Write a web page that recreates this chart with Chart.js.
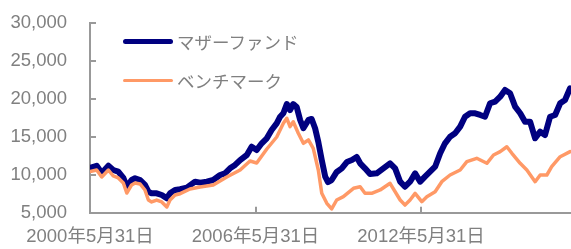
<!DOCTYPE html>
<html><head><meta charset="utf-8">
<script src="https://cdn.jsdelivr.net/npm/chart.js@4/dist/chart.umd.min.js"></script>
<style>
html,body{margin:0;padding:0;background:#fff;overflow:hidden}
#wrap{position:relative;width:571px;height:249px}
#legend{position:absolute;left:0;top:0;font-family:"Noto Sans CJK JP",sans-serif;font-size:17.5px;color:#808080}
.item{position:absolute;left:123px;height:20px;display:flex;align-items:center;white-space:nowrap}
.sw{display:inline-block;width:50px;margin-right:4px;border-radius:3px}
</style></head>
<body><div id="wrap"><canvas id="c" width="571" height="249"></canvas>
<div id="legend"></div></div>
<script>
const seriesNames = ['マザーファンド', 'ベンチマーク'];
const tickMonths = [0, 72, 144];
const tickLabels = ['2000年5月31日', '2006年5月31日', '2012年5月31日'];
const yTicks = [5000, 10000, 15000, 20000, 25000, 30000];
// months since 2000-05-31
const fundMonths = [0,2.9,5.1,8.0,10.1,12.3,14.5,16.0,18.1,19.6,21.8,23.9,25.4,26.8,29.0,31.2,33.4,34.8,37.0,39.2,42.1,45.7,47.9,50.8,53.6,56.6,58.7,60.9,63.1,65.3,68.2,70.3,72.5,74.7,76.9,79.0,81.2,82.7,84.1,85.6,87.0,88.4,89.9,91.4,92.8,95.0,96.4,97.9,99.3,100.8,102.3,103.5,105.1,107.3,109.5,111.7,113.9,116.0,117.5,119.6,121.8,124.7,127.6,130.5,132.7,134.9,137.0,139.2,141.4,143.6,145.7,147.9,150.1,152.3,154.4,156.6,158.8,161.0,163.1,165.3,167.5,169.7,171.8,174.0,176.2,178.4,180.5,182.7,184.9,187.1,189.2,191.4,193.6,195.8,197.9,200.1,202.3,204.5,206.6,208.8];
const fundValues = [10880,11180,10220,11180,10620,10400,9570,8420,9300,9530,9300,8650,7760,7550,7550,7330,6900,7550,7990,8080,8290,9080,8950,9080,9300,9960,10180,10840,11280,11930,12590,13680,13250,14130,14790,15880,16760,17630,18080,19300,18510,19300,18910,17200,16110,17200,17330,16110,14300,11930,9740,9040,9300,10360,10840,11670,11930,12330,11500,10840,10090,10180,10840,11500,10840,9080,8420,9080,10180,9080,9740,10400,11050,12820,14130,15000,15450,16320,17630,18080,18080,17860,17630,19400,19610,20260,21150,20710,18950,18080,16970,16970,14790,15660,15220,17630,17860,19400,19830,21370];
const benchMonths = [0,2.9,5.1,8.0,10.1,12.3,14.5,16.0,18.1,19.6,21.8,23.9,25.4,26.8,29.0,31.2,33.4,34.8,37.0,39.2,43.5,47.9,53.6,59.5,65.3,69.6,72.5,76.9,81.2,84.1,85.6,87.0,88.4,90.6,92.8,95.0,97.1,99.3,100.8,103.0,105.1,107.3,110.2,114.6,117.5,119.6,122.5,126.2,130.5,134.9,137.0,139.2,141.4,144.3,146.5,150.1,153.0,156.6,161.0,163.9,168.2,172.6,175.5,178.4,181.3,183.5,187.1,190.0,193.6,195.8,198.7,200.8,204.5,208.8];
const benchValues = [10420,10620,9700,10620,9830,9570,8910,7590,8650,8910,8780,7990,6670,6410,6670,6410,5750,6670,7330,7500,8120,8380,8650,9700,10620,11800,11540,13380,14960,16760,17420,16320,16970,15450,14130,14570,13470,10620,7550,6240,5490,6670,7110,8210,8420,7550,7550,7990,8870,6670,6010,6670,7550,6450,7110,7760,9080,9960,10620,11710,12160,11500,12590,13030,13680,12820,11500,10620,9080,9960,9960,11050,12370,13030];

const colors = ['#000080', '#FF9966'];
const widths = [6, 3.5];
const legendWidths = [5, 3];
const axisColor = '#999999';
const textColor = '#808080';

function pts(ms, vs){ return ms.map((m,i)=>({x:m, y:vs[i]})); }

// HTML legend inside the plot
const lg = document.getElementById('legend');
[41.5, 80].forEach((cy, i) => {
  const d = document.createElement('div');
  d.className = 'item';
  d.style.top = (cy - 10) + 'px';
  const sw = document.createElement('span');
  sw.className = 'sw';
  sw.style.height = legendWidths[i] + 'px';
  sw.style.background = colors[i];
  d.appendChild(sw);
  d.appendChild(document.createTextNode(seriesNames[i]));
  lg.appendChild(d);
});

const innerTicks = {
  id: 'innerTicks',
  beforeDatasetsDraw(chart){
    const {ctx, chartArea: a, scales: {x, y}} = chart;
    ctx.save();
    ctx.strokeStyle = axisColor; ctx.lineWidth = 2;
    y.ticks.forEach((t, i) => {
      const py = Math.round(y.getPixelForTick(i));
      ctx.beginPath(); ctx.moveTo(a.left, py); ctx.lineTo(a.left + 6, py); ctx.stroke();
    });
    x.ticks.forEach((t, i) => {
      const px = Math.round(x.getPixelForTick(i));
      ctx.beginPath(); ctx.moveTo(px, a.bottom); ctx.lineTo(px, a.bottom - 6); ctx.stroke();
    });
    ctx.restore();
  }
};

const font = {family: '"Liberation Sans", Arial, "Noto Sans CJK JP", sans-serif', size: 18.5};

new Chart(document.getElementById('c'), {
  type: 'line',
  data: {
    datasets: [
      {label: seriesNames[0], data: pts(fundMonths, fundValues), borderColor: colors[0], borderWidth: widths[0], order: 1},
      {label: seriesNames[1], data: pts(benchMonths, benchValues), borderColor: colors[1], borderWidth: widths[1], order: 0}
    ]
  },
  options: {
    responsive: false, animation: false, devicePixelRatio: 1,
    parsing: false,
    elements: {point: {radius: 0}, line: {tension: 0, borderJoinStyle: 'round', borderCapStyle: 'round', fill: false}},
    layout: {padding: {top: 22.7, left: 0, right: 0, bottom: 0}},
    plugins: {legend: {display: false}, tooltip: {enabled: false}},
    scales: {
      x: {
        type: 'linear', min: 0, max: 209.2,
        afterBuildTicks: s => { s.ticks = tickMonths.map(v => ({value: v})); },
        afterFit: s => { s.height = 36.3; s.paddingLeft = 0; s.paddingRight = 0; },
        grid: {display: true, drawOnChartArea: false, drawTicks: false},
        border: {display: true, color: axisColor, width: 2},
        ticks: {
          color: textColor, font: font, padding: 13, maxRotation: 0, autoSkip: false,
          callback: v => tickLabels[tickMonths.indexOf(v)] || ''
        }
      },
      y: {
        min: 5000, max: 30000,
        afterBuildTicks: s => { s.ticks = yTicks.map(v => ({value: v})); },
        afterFit: s => { s.width = 90; s.paddingTop = 0; s.paddingBottom = 0; },
        grid: {display: true, drawOnChartArea: false, drawTicks: false},
        border: {display: true, color: axisColor, width: 2},
        ticks: {color: textColor, font: font, padding: 23, callback: v => v.toLocaleString('en-US')}
      }
    }
  },
  plugins: [innerTicks]
});
</script></body></html>
